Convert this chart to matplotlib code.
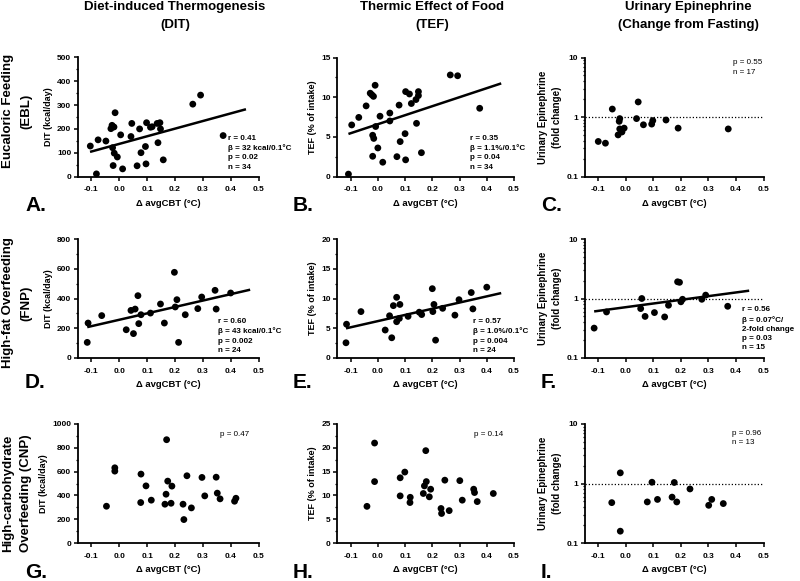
import matplotlib
matplotlib.use('Agg')
import matplotlib.pyplot as plt
import numpy as np
from matplotlib.ticker import FixedLocator, FixedFormatter, MultipleLocator, LogLocator, NullFormatter

plt.rcParams['font.family'] = ['Liberation Sans', 'DejaVu Sans']

# ---------------- data ----------------
x_ticks = [-0.1, 0.0, 0.1, 0.2, 0.3, 0.4, 0.5]
x_ticklabels = ['-0.1', '0.0', '0.1', '0.2', '0.3', '0.4', '0.5']
log_ticks = [0.1, 1, 10]
log_ticklabels = ['0.1', '1', '10']

col_titles = ['Diet-induced Thermogenesis\n(DIT)', 'Thermic Effect of Food\n(TEF)',
              'Urinary Epinephrine\n(Change from Fasting)']
row_titles = [('Eucaloric Feeding', '(EBL)'), ('High-fat Overfeeding', '(FNP)'),
              ('High-carbohydrate', 'Overfeeding (CNP)')]
panel_letters = ['A.', 'B.', 'C.', 'D.', 'E.', 'F.', 'G.', 'H.', 'I.']
x_label = 'Δ avgCBT (°C)'
y_labels = ['DIT (kcal/day)', 'TEF (% of intake)', 'Urinary Epinephrine\n(fold change)']

# A: EBL DIT
a_x = [-0.104, -0.082, -0.076, -0.048, -0.030, -0.026, -0.019, -0.015, -0.024, -0.018, -0.007,
       -0.022, 0.005, 0.012, 0.042, 0.045, 0.064, 0.073, 0.078, 0.094, 0.098, 0.096, 0.112,
       0.118, 0.136, 0.146, 0.148, 0.139, 0.158, 0.264, 0.292, 0.373]
a_y = [128, 11, 154, 149, 201, 215, 208, 268, 121, 98, 82, 46, 175, 32, 168, 223, 45, 200,
       100, 126, 226, 53, 207, 209, 223, 226, 200, 142, 70, 304, 342, 172]
# B: EBL TEF
b_x = [-0.096, -0.108, -0.070, -0.043, -0.028, -0.022, -0.016, -0.010, -0.019, -0.015, -0.008,
       0.000, -0.019, 0.008, 0.018, 0.044, 0.044, 0.078, 0.082, 0.070, 0.100, 0.102, 0.102,
       0.116, 0.123, 0.140, 0.149, 0.149, 0.142, 0.160, 0.266, 0.293, 0.374]
b_y = [6.5, 0.3, 7.45, 8.9, 10.5, 10.3, 10.1, 11.5, 5.2, 4.8, 6.3, 3.6, 2.55, 7.6, 1.8, 8.0,
       7.0, 9.0, 4.4, 2.5, 5.4, 10.7, 2.1, 10.4, 9.2, 9.7, 10.7, 10.2, 6.7, 3.0, 12.8, 12.7, 8.6]
# C: EBL urinary epinephrine
c_x = [-0.100, -0.074, -0.049, -0.028, -0.024, -0.022, -0.022, -0.014, -0.006, 0.039, 0.045,
       0.064, 0.094, 0.098, 0.146, 0.190, 0.372]
c_y = [0.388, 0.363, 1.36, 0.50, 0.845, 0.94, 0.63, 0.56, 0.65, 0.94, 1.79, 0.74, 0.76, 0.87,
       0.89, 0.65, 0.63]
# D: FNP DIT
d_x = [-0.115, -0.112, -0.063, 0.025, 0.042, 0.051, 0.057, 0.067, 0.070, 0.078, 0.112, 0.148,
       0.162, 0.198, 0.201, 0.207, 0.213, 0.237, 0.282, 0.296, 0.344, 0.348, 0.400]
d_y = [105, 235, 285, 190, 320, 164, 329, 419, 231, 291, 302, 363, 235, 576, 343, 392, 105,
       291, 332, 410, 455, 329, 437]
# E: FNP TEF
e_x = [-0.117, -0.115, -0.062, 0.027, 0.043, 0.051, 0.057, 0.069, 0.069, 0.081, 0.079, 0.111,
       0.152, 0.161, 0.200, 0.202, 0.206, 0.212, 0.238, 0.283, 0.298, 0.343, 0.349, 0.400]
e_y = [2.56, 5.68, 7.8, 4.7, 7.1, 3.4, 8.8, 10.2, 6.1, 9.0, 6.65, 7.0, 7.7, 7.3, 11.65, 7.8,
       9.0, 3.0, 8.35, 7.2, 9.8, 11.0, 8.25, 11.9]
# F: FNP urinary epinephrine
f_x = [-0.115, -0.070, 0.054, 0.058, 0.070, 0.104, 0.141, 0.155, 0.188, 0.195, 0.200, 0.206,
       0.276, 0.290, 0.370]
f_y = [0.318, 0.594, 0.677, 1.0, 0.50, 0.58, 0.49, 0.77, 1.91, 1.87, 0.88, 0.97, 0.97, 1.14,
       0.74]
# G: CNP DIT
g_x = [-0.046, -0.016, -0.016, 0.078, 0.077, 0.096, 0.115, 0.170, 0.174, 0.168, 0.164, 0.186,
       0.189, 0.229, 0.232, 0.243, 0.259, 0.297, 0.307, 0.348, 0.352, 0.362, 0.414, 0.419]
g_y = [309, 632, 604, 579, 340, 480, 360, 868, 520, 410, 326, 334, 478, 326, 197, 565, 295,
       551, 396, 553, 419, 371, 351, 376]
# H: CNP TEF
h_x = [-0.040, -0.012, -0.012, 0.082, 0.082, 0.099, 0.119, 0.118, 0.167, 0.171, 0.176, 0.178,
       0.189, 0.194, 0.232, 0.234, 0.246, 0.262, 0.301, 0.310, 0.352, 0.355, 0.365, 0.424]
h_y = [7.7, 21.0, 12.9, 13.7, 9.9, 14.9, 9.6, 8.5, 10.4, 12.0, 19.4, 12.9, 9.7, 11.3, 7.25,
       6.2, 13.2, 6.8, 13.1, 9.0, 11.3, 10.6, 8.7, 10.4]
# I: CNP urinary epinephrine
i_x = [-0.051, -0.020, -0.020, 0.078, 0.095, 0.115, 0.168, 0.176, 0.185, 0.233, 0.301, 0.312,
       0.354]
i_y = [0.477, 1.51, 0.158, 0.49, 1.05, 0.54, 0.59, 1.04, 0.49, 0.81, 0.43, 0.54, 0.46]

# regression fits (intercept, slope, x-start, x-end); F fitted in log10 space
fit_a = (137, 320, -0.105, 0.455)
fit_b = (6.59, 11.36, -0.108, 0.453)
fit_d = (257, 430, -0.115, 0.47)
fit_e = (6.2, 10.4, -0.117, 0.453)
fit_f = (-0.146, 0.619, -0.115, 0.448)

stats_a = 'r = 0.41\nβ = 32 kcal/0.1°C\np = 0.02\nn = 34'
stats_b = 'r = 0.35\nβ = 1.1%/0.1°C\np = 0.04\nn = 34'
stats_c = 'p = 0.55\nn = 17'
stats_d = 'r = 0.60\nβ = 43 kcal/0.1°C\np = 0.002\nn = 24'
stats_e = 'r = 0.57\nβ = 1.0%/0.1°C\np = 0.004\nn = 24'
stats_f = 'r = 0.56\nβ = 0.07°C/\n2-fold change\np = 0.03\nn = 15'
stats_g = 'p = 0.47'
stats_h = 'p = 0.14'
stats_i = 'p = 0.96\nn = 13'

# ---------------- layout ----------------
W, H = 800, 581
fig = plt.figure(figsize=(8, 5.81), dpi=100)

col_left = [77.5, 337, 584.5]
col_width = [181, 177, 179]
row_top = [57.5, 239, 424]
row_h = 119


def add_ax(r, c):
    l = col_left[c]
    t = row_top[r]
    return fig.add_axes([l / W, 1 - (t + row_h) / H, col_width[c] / W, row_h / H])


def style(ax, ylim, major, minor, log=False):
    ax.set_xlim(-0.15, 0.5)
    for s in ['top', 'right']:
        ax.spines[s].set_visible(False)
    for s in ['left', 'bottom']:
        ax.spines[s].set_linewidth(1.3)
    ax.xaxis.set_major_locator(FixedLocator(x_ticks))
    ax.xaxis.set_major_formatter(FixedFormatter(x_ticklabels))
    if log:
        ax.set_yscale('log')
        ax.set_ylim(*ylim)
        ax.yaxis.set_major_locator(FixedLocator(log_ticks))
        ax.yaxis.set_major_formatter(FixedFormatter(log_ticklabels))
        ax.yaxis.set_minor_locator(LogLocator(base=10, subs=np.arange(2, 10)))
        ax.yaxis.set_minor_formatter(NullFormatter())
    else:
        ax.set_ylim(*ylim)
        ax.yaxis.set_major_locator(MultipleLocator(major))
        ax.yaxis.set_minor_locator(MultipleLocator(minor))
    ax.tick_params(axis='both', which='major', direction='out', length=3, width=1.1,
                   labelsize=6)
    ax.tick_params(axis='y', which='major', pad=1.5)
    ax.tick_params(axis='x', which='major', pad=4)
    ax.tick_params(axis='y', which='minor', direction='out', length=1.8, width=0.9)
    for lab in ax.get_xticklabels() + ax.get_yticklabels():
        lab.set_fontweight('bold')
    ax.patch.set_alpha(0)


def dots(ax, x, y):
    ax.scatter(x, y, s=24, color='black', edgecolors='none', zorder=3, clip_on=False)


def fit_line(ax, fit, log=False):
    b0, b1, x0, x1 = fit
    xs = np.array([x0, x1])
    ys = b0 + b1 * xs
    if log:
        ys = 10 ** ys
    ax.plot(xs, ys, color='black', lw=1.8, solid_capstyle='butt', zorder=2)


def stats(ax, txt, x, y, bold=True):
    ax.text(x, y, txt, transform=ax.transAxes, fontsize=5.8,
            fontweight='bold' if bold else 'normal', ha='left', va='center',
            linespacing=1.45)


def ref_line(ax):
    ax.axhline(1, color='black', lw=0.9, ls=(0, (1, 1.6)), zorder=1)


axes = [[add_ax(r, c) for c in range(3)] for r in range(3)]

# row 1
ax = axes[0][0]
style(ax, (0, 500), 100, 50)
dots(ax, a_x, a_y)
fit_line(ax, fit_a)
stats(ax, stats_a, 0.83, 0.2)

ax = axes[0][1]
style(ax, (0, 15), 5, 2.5)
dots(ax, b_x, b_y)
fit_line(ax, fit_b)
stats(ax, stats_b, 0.75, 0.2)

ax = axes[0][2]
style(ax, (0.1, 10), None, None, log=True)
ref_line(ax)
dots(ax, c_x, c_y)
stats(ax, stats_c, 0.83, 0.915, bold=False)

# row 2
ax = axes[1][0]
style(ax, (0, 800), 200, 100)
dots(ax, d_x, d_y)
fit_line(ax, fit_d)
stats(ax, stats_d, 0.775, 0.186)

ax = axes[1][1]
style(ax, (0, 20), 5, 2.5)
dots(ax, e_x, e_y)
fit_line(ax, fit_e)
stats(ax, stats_e, 0.77, 0.186)

ax = axes[1][2]
style(ax, (0.1, 10), None, None, log=True)
ref_line(ax)
dots(ax, f_x, f_y)
fit_line(ax, fit_f, log=True)
stats(ax, stats_f, 0.88, 0.245)

# row 3
ax = axes[2][0]
style(ax, (0, 1000), 200, 100)
dots(ax, g_x, g_y)
stats(ax, stats_g, 0.79, 0.91, bold=False)

ax = axes[2][1]
style(ax, (0, 25), 5, 2.5)
dots(ax, h_x, h_y)
stats(ax, stats_h, 0.774, 0.91, bold=False)

ax = axes[2][2]
style(ax, (0.1, 10), None, None, log=True)
ref_line(ax)
dots(ax, i_x, i_y)
stats(ax, stats_i, 0.826, 0.88, bold=False)

# axis labels
for r in range(3):
    for c in range(3):
        ax = axes[r][c]
        ax.set_xlabel(x_label, fontsize=6.8, fontweight='bold', labelpad=4)
        ax.set_ylabel(y_labels[c], fontsize=6.5 if c < 2 else 7, fontweight='bold',
                      labelpad=3, linespacing=1.5)

# column titles
col_cx = [175, 432, 688]
for c in range(3):
    fig.text(col_cx[c] / W, 1 - 16 / H, col_titles[c], ha='center', va='center',
             fontsize=9.5, fontweight='bold', linespacing=1.6)

# row titles
row_cy = [111, 303, 493]
for r in range(3):
    fig.text(8 / W, 1 - row_cy[r] / H, row_titles[r][0], rotation=90, ha='center',
             va='center', fontsize=9.5, fontweight='bold')
    fig.text(26 / W, 1 - row_cy[r] / H, row_titles[r][1], rotation=90, ha='center',
             va='center', fontsize=9.5, fontweight='bold')

# panel letters
letter_x = [25, 293, 541]
letter_y = [206, 383, 572]
for r in range(3):
    for c in range(3):
        fig.text(letter_x[c] / W, 1 - letter_y[r] / H, panel_letters[r * 3 + c],
                 ha='left', va='center', fontsize=15, fontweight='bold')

fig.savefig('out.png', dpi=100)
